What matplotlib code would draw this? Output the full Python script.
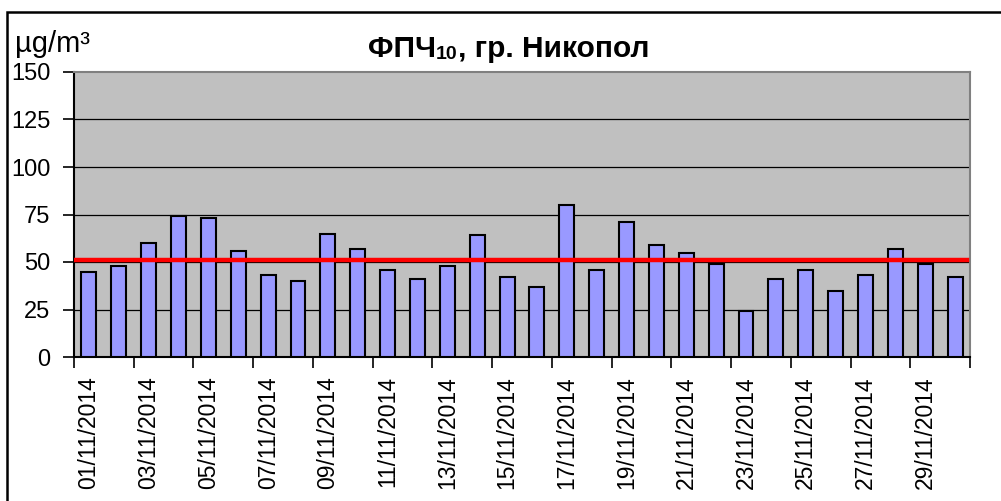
import matplotlib
matplotlib.use("Agg")
import matplotlib.pyplot as plt
from matplotlib.patches import Rectangle

plt.rcParams['font.family'] = ['Liberation Sans', 'DejaVu Sans']

# daily PM10 averages, Nikopol, November 2014
days = [f"{d:02d}/11/2014" for d in range(1, 31)]
pm10 = [45, 48, 60, 74, 73, 56, 43, 40, 65, 57,
        46, 41, 48, 64, 42, 37, 80, 46, 71, 59,
        55, 49, 24, 41, 46, 35, 43, 57, 49, 42]
limit = 51
yticks = [0, 25, 50, 75, 100, 125, 150]

W, H = 1001, 501
fig = plt.figure(figsize=(W / 100, H / 100), dpi=100)
ax = fig.add_axes([74 / W, 1 - 357 / H, (970 - 74) / W, (357 - 72) / H])
ax.set_facecolor("#C0C0C0")

x = list(range(len(days)))
ax.bar(x, pm10, width=0.5, color="#9999FF", edgecolor="black", linewidth=1.5, zorder=3)
ax.axhline(limit, xmin=0, xmax=0.997, color="#FF0000", linewidth=3.2, zorder=4)

ax.set_xlim(-0.5, len(days) - 0.5)
ax.set_ylim(0, 150)
ax.set_yticks(yticks)
ax.set_yticklabels([str(v) for v in yticks], fontsize=17)
for v in yticks[1:-1]:
    ax.axhline(v, color="black", linewidth=0.9, zorder=1)

# tick marks between pairs of days, labels under odd days
ax.set_xticks([i - 0.5 for i in range(0, len(days) + 1, 2)])
ax.set_xticklabels([])
ax.set_xticks(x[::2], minor=True)
ax.set_xticklabels(days[::2], minor=True, rotation=90, fontsize=16.5, va="top")
ax.tick_params(axis="x", which="major", length=8, width=1.2, direction="out")
ax.tick_params(axis="x", which="minor", length=0, pad=14)
ax.tick_params(axis="y", length=8, width=1.2, pad=9)

for s in ("left", "bottom"):
    ax.spines[s].set_color("black")
    ax.spines[s].set_linewidth(1.5)
for s in ("top", "right"):
    ax.spines[s].set_color("#808080")
    ax.spines[s].set_linewidth(1.5)

# title with subscript, pieces chained one after another
t1 = fig.text(368 / W, 1 - 57 / H, "ФПЧ", fontsize=21.5, fontweight="bold", va="baseline")
t2 = ax.annotate("10", xy=(1, 0), xycoords=t1, fontsize=14, fontweight="bold",
                 va="bottom", annotation_clip=False)
ax.annotate(", гр. Никопол", xy=(1, 0), xycoords=t2, fontsize=21.5, fontweight="bold",
            va="bottom", annotation_clip=False)

fig.text(15 / W, 1 - 52 / H, "µg/m³", fontsize=21, va="baseline")

# outer chart frame (cropped at right and bottom)
fig.add_artist(Rectangle((7 / W, -0.2), 1.2, 1.2 - 12 / H, transform=fig.transFigure,
                         fill=False, edgecolor="black", linewidth=1.8))

fig.savefig("out.png", dpi=100)
